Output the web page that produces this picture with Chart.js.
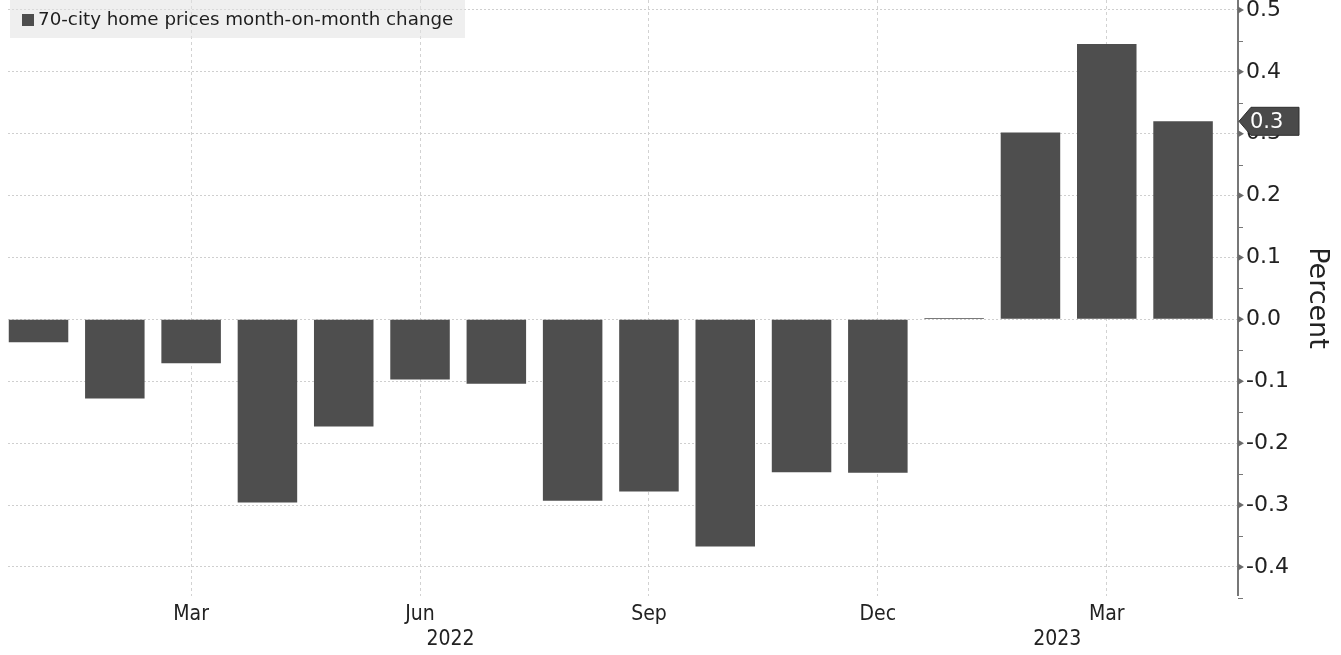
<!DOCTYPE html>
<html>
<head>
<meta charset="utf-8">
<script src="https://cdn.jsdelivr.net/npm/chart.js@4.4.0/dist/chart.umd.min.js"></script>
<style>
  html, body { margin: 0; padding: 0; background: #ffffff; }
  #wrap { position: relative; width: 1341px; height: 655px; overflow: hidden; }
  #legend {
    position: absolute; left: 10px; top: 0px; width: 455px; height: 38px;
    background: rgba(226,226,226,0.55);
    font-family: "DejaVu Sans", sans-serif; font-size: 18.3px; color: #1e1e1e;
    line-height: 38px; white-space: nowrap;
  }
  #legend .sw { display: inline-block; width: 12px; height: 12px; background: #4d4d4d;
    margin-left: 12px; margin-right: 4px; vertical-align: -1px; }
</style>
</head>
<body>
<div id="wrap">
  <canvas id="c" width="1341" height="655"></canvas>
  <div id="legend"><span class="sw"></span><span id="legendText"></span></div>
</div>
<script>
// ---- data ----
const seriesName = '70-city home prices month-on-month change';
const categories = ['2022-01','2022-02','2022-03','2022-04','2022-05','2022-06','2022-07','2022-08',
                    '2022-09','2022-10','2022-11','2022-12','2023-01','2023-02','2023-03','2023-04'];
const values = [-0.037, -0.128, -0.071, -0.296, -0.173, -0.097, -0.104, -0.293,
                -0.278, -0.367, -0.247, -0.248, 0.002, 0.302, 0.445, 0.32];
const xTickMonths = ['2022-03','2022-06','2022-09','2022-12','2023-03'];
const xTickLabels = ['Mar','Jun','Sep','Dec','Mar'];
const yearLabels = ['2022','2023'];
const yearLabelPos = [5.4, 13.35];   // in month-index units
const yTicks = [-0.4, -0.3, -0.2, -0.1, 0.0, 0.1, 0.2, 0.3, 0.4, 0.5];
const yMinorTicks = [-0.45, -0.35, -0.25, -0.15, -0.05, 0.05, 0.15, 0.25, 0.35, 0.45];
const yTitle = 'Percent';

document.getElementById('legendText').textContent = seriesName;

const BAR = '#4e4e4e';
const points = categories.map((c, i) => ({ x: i, y: values[i] }));
const tickIdx = xTickMonths.map(m => categories.indexOf(m));

const decorPlugin = {
  id: 'decor',
  afterDraw(chart) {
    const { ctx, chartArea, scales } = chart;
    const xs = scales.x, ys = scales.y;
    const ax = chartArea.right;
    ctx.save();
    // axis line
    ctx.strokeStyle = '#777';
    ctx.lineWidth = 2;
    ctx.setLineDash([]);
    ctx.beginPath();
    ctx.moveTo(ax, chartArea.top);
    ctx.lineTo(ax, chartArea.bottom);
    ctx.stroke();
    // major tick triangles
    ctx.fillStyle = '#6a6a6a';
    yTicks.forEach(v => {
      const py = ys.getPixelForValue(v);
      ctx.beginPath();
      ctx.moveTo(ax, py - 3.5);
      ctx.lineTo(ax + 6, py);
      ctx.lineTo(ax, py + 3.5);
      ctx.closePath();
      ctx.fill();
    });
    // minor ticks
    ctx.strokeStyle = '#777';
    ctx.lineWidth = 1;
    yMinorTicks.forEach(v => {
      const py = Math.round(ys.getPixelForValue(v)) + 0.5;
      ctx.beginPath();
      ctx.moveTo(ax, py);
      ctx.lineTo(ax + 5, py);
      ctx.stroke();
    });
    // year labels
    ctx.fillStyle = '#222';
    ctx.font = '21px "DejaVu Sans Condensed", "DejaVu Sans", sans-serif';
    ctx.textAlign = 'center';
    ctx.textBaseline = 'middle';
    yearLabels.forEach((t, i) => {
      ctx.fillText(t, xs.getPixelForValue(yearLabelPos[i]), 640);
    });
    // last value marker
    const last = values[values.length - 1];
    const py = ys.getPixelForValue(last);
    ctx.beginPath();
    ctx.moveTo(ax + 1, py);
    ctx.lineTo(ax + 13, py - 14);
    ctx.lineTo(ax + 61, py - 14);
    ctx.lineTo(ax + 61, py + 14);
    ctx.lineTo(ax + 13, py + 14);
    ctx.closePath();
    ctx.fillStyle = '#4a4a4a';
    ctx.fill();
    ctx.strokeStyle = '#2e2e2e';
    ctx.lineWidth = 1;
    ctx.stroke();
    ctx.fillStyle = '#ffffff';
    ctx.font = '21px "DejaVu Sans", sans-serif';
    ctx.textAlign = 'left';
    ctx.textBaseline = 'middle';
    ctx.fillText(last.toFixed(1), ax + 12, py + 1);
    ctx.restore();
  }
};

new Chart(document.getElementById('c'), {
  type: 'bar',
  data: {
    datasets: [{
      label: seriesName,
      data: points,
      backgroundColor: BAR,
      borderWidth: 0,
      categoryPercentage: 1.0,
      barPercentage: 0.78
    }]
  },
  options: {
    responsive: false,
    animation: false,
    layout: { padding: { left: 8, top: 0, right: 0, bottom: 0 } },
    plugins: { legend: { display: false }, tooltip: { enabled: false } },
    scales: {
      x: {
        type: 'linear',
        offset: false,
        min: -0.4,
        max: 15.72,
        afterBuildTicks(scale) { scale.ticks = tickIdx.map(v => ({ value: v })); },
        afterFit(scale) { scale.height = 59; scale.paddingLeft = 0; scale.paddingRight = 0; },
        border: { display: false, dash: [3, 3] },
        grid: { offset: false, color: '#d2d2d2', lineWidth: 1, drawTicks: false },
        ticks: {
          autoSkip: false, maxRotation: 0, padding: 6, color: '#222',
          font: { family: '"DejaVu Sans Condensed", "DejaVu Sans", sans-serif', size: 21 },
          callback: (v) => { const k = tickIdx.indexOf(v); return k >= 0 ? xTickLabels[k] : ''; }
        }
      },
      y: {
        position: 'right',
        min: -0.447,
        max: 0.516,
        afterBuildTicks(scale) { scale.ticks = yTicks.map(v => ({ value: v })); },
        afterFit(scale) { scale.width = 103; scale.paddingTop = 0; scale.paddingBottom = 0; },
        border: { display: false, dash: [2, 2] },
        grid: { color: '#cfcfcf', lineWidth: 1, drawTicks: false },
        ticks: {
          padding: 8, color: '#222',
          font: { family: '"DejaVu Sans", sans-serif', size: 22 },
          callback: (v) => Number(v).toFixed(1)
        },
        title: {
          display: true, text: yTitle, color: '#222',
          font: { family: '"DejaVu Sans", sans-serif', size: 27 },
          padding: { top: 8, bottom: 0 }
        }
      }
    }
  },
  plugins: [decorPlugin]
});
</script>
</body>
</html>
